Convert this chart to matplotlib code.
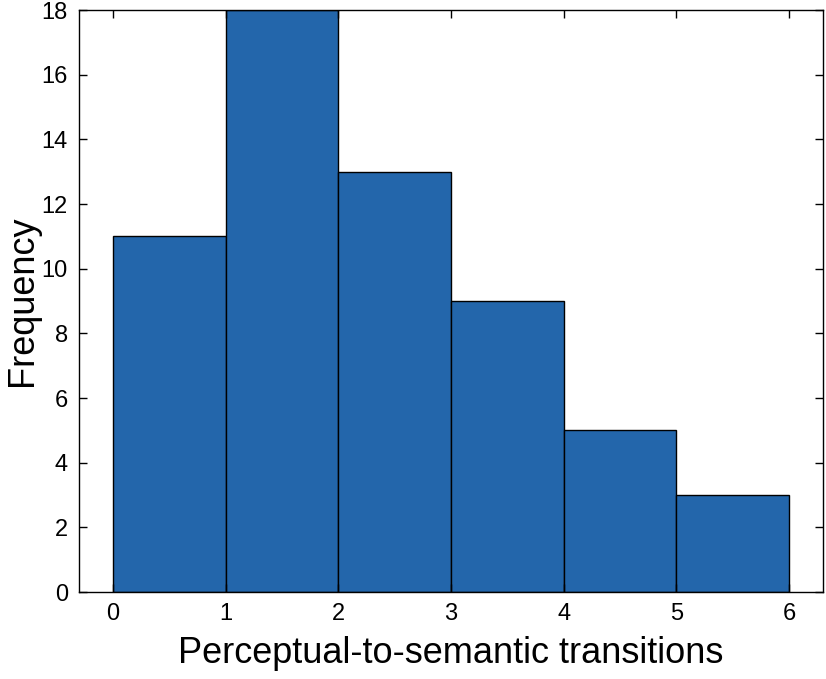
"""
histogram of perceptual-to-semantic transitions
"""
import numpy as np
from matplotlib import pyplot as plt

plt.rcParams['font.family'] = ['Liberation Sans', 'DejaVu Sans']

bin_edges = [0, 1, 2, 3, 4, 5, 6]
counts = [11, 18, 13, 9, 5, 3]


def plot_histogram(edges, freq, filename):
    fig = plt.figure(figsize=(8.26, 6.79), dpi=100)
    ax = fig.add_axes([0.0956, 0.128, 0.9008, 0.857])

    ax.hist(edges[:-1], bins=edges, weights=freq, color='#2366AB',
            edgecolor='black', linewidth=1.0)

    ax.set_xlim(-0.3, 6.3)
    ax.set_ylim(0, 18)
    ax.set_xticks(np.arange(0, 7, 1))
    ax.set_yticks(np.arange(0, 19, 2))
    ax.tick_params(direction='in', top=True, right=True, labelsize=17,
                   length=6, width=1.0, pad=8)
    for spine in ax.spines.values():
        spine.set_linewidth(1.0)

    ax.set_xlabel('Perceptual-to-semantic transitions', fontsize=26, labelpad=8)
    ax.set_ylabel('Frequency', fontsize=26, labelpad=1)
    fig.savefig(filename, dpi=100)


plot_histogram(bin_edges, counts, 'out.png')
